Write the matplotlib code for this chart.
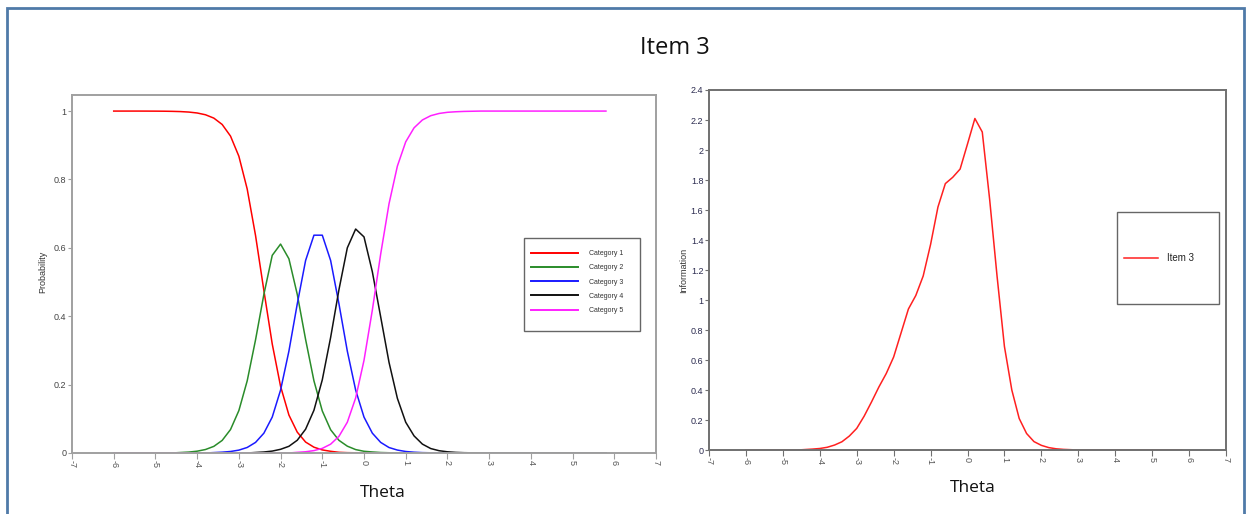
import numpy as np
import matplotlib
matplotlib.use('Agg')
import matplotlib.pyplot as plt
from matplotlib.patches import Rectangle
from matplotlib.ticker import FuncFormatter

plt.rc('font', family=['Liberation Sans', 'DejaVu Sans'])

# theta grid of the trace lines (-6 .. 5.8, step 0.2)
theta = np.linspace(-6.0, 5.8, 60)

# category response curves
cat1 = [1.0, 1.0, 1.0, 1.0, 0.9999, 0.9998, 0.9996, 0.9992, 0.9985, 0.9971,
        0.9944, 0.9892, 0.9794, 0.9608, 0.9268, 0.868, 0.772, 0.636, 0.475, 0.319,
        0.195, 0.111, 0.061, 0.032, 0.017, 0.009, 0.005, 0.002, 0.001, 0.0006,
        0.0003] + [0.0] * 29
cat2 = [0.0] * 8 + [0.0014, 0.0027, 0.0053, 0.0102, 0.0194, 0.0368, 0.0686, 0.124,
                    0.211, 0.331, 0.464, 0.578, 0.611, 0.568, 0.464, 0.332, 0.211,
                    0.123, 0.068, 0.037, 0.020, 0.010, 0.005, 0.003, 0.0014,
                    0.0007] + [0.0] * 26
cat3 = [0.0] * 12 + [0.0012, 0.0024, 0.0044, 0.0084, 0.0162, 0.031, 0.058, 0.105,
                     0.184, 0.298, 0.436, 0.563, 0.637, 0.637, 0.563, 0.436, 0.298,
                     0.184, 0.105, 0.058, 0.031, 0.016, 0.0086, 0.0044, 0.0023,
                     0.0011, 0.0006] + [0.0] * 21
cat4 = [0.0] * 17 + [0.0015, 0.0029, 0.0056, 0.0108, 0.0196, 0.0373, 0.0696, 0.125,
                     0.214, 0.338, 0.478, 0.600, 0.655, 0.632, 0.530, 0.398, 0.265,
                     0.160, 0.090, 0.050, 0.026, 0.013, 0.0067, 0.0035, 0.0018,
                     0.0009, 0.0005] + [0.0] * 16
cat5 = [0.0] * 22 + [0.0019, 0.0036, 0.0070, 0.0135, 0.0258, 0.0488, 0.090, 0.161,
                     0.271, 0.418, 0.582, 0.729, 0.839, 0.910, 0.951, 0.974, 0.9865,
                     0.993, 0.9964, 0.998, 0.999, 0.9995] + [1.0] * 16

# item information curve
info = [0.0] * 8 + [0.003, 0.006, 0.010, 0.018, 0.033, 0.055, 0.093, 0.144, 0.225,
                    0.32, 0.42, 0.51, 0.62, 0.78, 0.94, 1.03, 1.16, 1.37, 1.62,
                    1.776, 1.818, 1.873, 2.04, 2.21, 2.12, 1.67, 1.16, 0.69, 0.40,
                    0.21, 0.11, 0.056, 0.031, 0.016, 0.008, 0.004, 0.002] + [0.0] * 15

cat_names = ['Category 1', 'Category 2', 'Category 3', 'Category 4', 'Category 5']
cat_colors = ['#ff0000', '#2a8c2a', '#1a1aff', '#111111', '#ff20ff']
x_ticks = list(range(-7, 8))

W, H = 1250, 514
fig = plt.figure(figsize=(12.5, 5.14), dpi=100)
fig.patch.set_facecolor('white')


def fbox(x0, y0, x1, y1):
    # pixel box (top-left origin) -> figure fraction [l, b, w, h]
    return [x0 / W, 1 - y1 / H, (x1 - x0) / W, (y1 - y0) / H]


# outer blue frame
fig.patches.append(Rectangle((7 / W, -0.05), (1244 - 7) / W, 1.05 - 8 / H,
                             transform=fig.transFigure, fill=False,
                             edgecolor='#4f7aa8', linewidth=2.0))

fig.text(675 / W, 1 - 48 / H, 'Item 3', fontsize=17, ha='center', va='center',
         family=['Open Sans', 'DejaVu Sans'], color='#111111')


def style_axes(ax, spine_col, ylab_col):
    ax.set_xlim(-7, 7)
    ax.set_xticks(x_ticks)
    ax.set_xticklabels([str(t) for t in x_ticks], rotation=-90)
    for s in ax.spines.values():
        s.set_color(spine_col)
        s.set_linewidth(1.4)
    ax.tick_params(axis='x', direction='out', length=4, width=0.8, colors=spine_col,
                   labelcolor='#555555', labelsize=6.5, pad=1)
    ax.tick_params(axis='y', direction='out', length=3, width=0.8, colors=spine_col,
                   labelcolor=ylab_col, labelsize=6.5, pad=1)
    ax.yaxis.set_major_formatter(FuncFormatter(lambda v, p: '%g' % round(v, 1)))


# ---- left: category response curves
ax1 = fig.add_axes(fbox(72, 95, 656, 453))
for vals, c, n in zip([cat1, cat2, cat3, cat4, cat5], cat_colors, cat_names):
    ax1.plot(theta, vals, color=c, linewidth=1.1, label=n)
ax1.set_ylim(0, 1.047)
ax1.set_yticks([0, 0.2, 0.4, 0.6, 0.8, 1.0])
style_axes(ax1, '#a0a0a0', '#444444')
fig.text(43 / W, 1 - 272 / H, 'Probability', rotation=90, fontsize=6.5,
         ha='center', va='center', color='#333333')
fig.text(383 / W, 1 - 493 / H, 'Theta', fontsize=12.5, ha='center', va='center',
         family=['Open Sans', 'DejaVu Sans'], color='#111111')

fig.patches.append(Rectangle((524 / W, 1 - 331 / H), 116 / W, 93 / H,
                             transform=fig.transFigure, fill=False,
                             edgecolor='#666666', linewidth=1.0))
leg1 = ax1.legend(loc='upper left', bbox_to_anchor=(531 / W, 1 - 250 / H),
                  bbox_transform=fig.transFigure, frameon=False, fontsize=5,
                  handlelength=6.8, handletextpad=1.6, labelspacing=1.05,
                  borderpad=0, borderaxespad=0)
for t in leg1.get_texts():
    t.set_color('#333333')
for l in leg1.get_lines():
    l.set_linewidth(1.4)

# ---- right: item information
ax2 = fig.add_axes(fbox(709, 90, 1226, 450))
ax2.plot(theta, info, color='#ff2020', linewidth=1.1, label='Item 3')
ax2.set_ylim(0, 2.4)
ax2.set_yticks(np.arange(0, 2.41, 0.2))
style_axes(ax2, '#707070', '#2c2c50')
fig.text(684 / W, 1 - 270 / H, 'Information', rotation=90, fontsize=6.5,
         ha='center', va='center', color='#333333')
fig.text(973 / W, 1 - 488 / H, 'Theta', fontsize=12.5, ha='center', va='center',
         family=['Open Sans', 'DejaVu Sans'], color='#111111')

fig.patches.append(Rectangle((1117 / W, 1 - 304 / H), 102 / W, 92 / H,
                             transform=fig.transFigure, fill=False,
                             edgecolor='#666666', linewidth=1.0))
leg2 = ax2.legend(loc='center left', bbox_to_anchor=(1124 / W, 1 - 258 / H),
                  bbox_transform=fig.transFigure, frameon=False, fontsize=7,
                  handlelength=3.5, handletextpad=0.9, borderpad=0, borderaxespad=0)
for t in leg2.get_texts():
    t.set_color('#222222')

fig.savefig('out.png', dpi=100, facecolor='white')
